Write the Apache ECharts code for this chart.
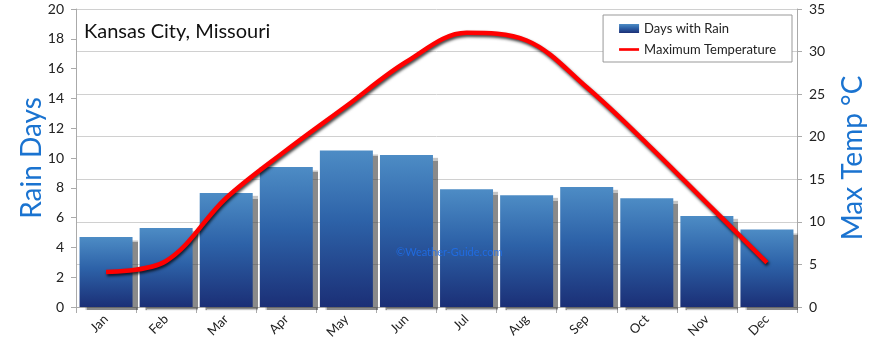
<!DOCTYPE html>
<html>
<head>
<meta charset="utf-8">
<title>Kansas City, Missouri</title>
<script src="https://cdn.jsdelivr.net/npm/echarts@6/dist/echarts.min.js"></script>
<style>
  html, body { margin: 0; padding: 0; background: #fff; }
  #chart { width: 870px; height: 352px; }
</style>
</head>
<body>
<div id="chart"></div>
<script>
// data
const months = ['Jan', 'Feb', 'Mar', 'Apr', 'May', 'Jun', 'Jul', 'Aug', 'Sep', 'Oct', 'Nov', 'Dec'];
const rainDays = [4.7, 5.3, 7.65, 9.4, 10.5, 10.2, 7.9, 7.5, 8.05, 7.3, 6.1, 5.2];
const maxTemp = [4.1, 5.4, 12.8, 18.4, 23.6, 28.8, 32.2, 31.3, 25.8, 19.2, 12.2, 5.2];

const fontName = 'Lato';
const blueText = '#1a73d0';

const chart = echarts.init(document.getElementById('chart'));

const barColor = new echarts.graphic.LinearGradient(0, 0, 0, 1, [
  { offset: 0, color: '#4d8cc5' },
  { offset: 0.45, color: '#2d62a8' },
  { offset: 1, color: '#1b2f76' }
]);

const option = {
  animation: false,
  textStyle: { fontFamily: fontName },
  title: {
    text: 'Kansas City, Missouri',
    left: 79,
    top: 17,
    textStyle: { fontSize: 20, fontWeight: 'normal', color: '#111', fontFamily: fontName }
  },
  legend: {
    orient: 'vertical',
    right: 78,
    top: 15,
    backgroundColor: '#fff',
    borderColor: '#999',
    borderWidth: 1,
    padding: [7, 16, 6, 16],
    itemGap: 8,
    itemWidth: 20,
    itemHeight: 9,
    textStyle: { fontSize: 13, color: '#222' },
    data: [
      { name: 'Days with Rain', icon: 'rect' },
      { name: 'Maximum Temperature', icon: 'path://M0,0 H30 V4 H0 Z', itemStyle: { color: '#ff0000' } }
    ]
  },
  grid: {
    left: 76,
    right: 73,
    top: 9,
    bottom: 45,
    outerBoundsMode: 'none'
  },
  xAxis: {
    type: 'category',
    data: months,
    axisLine: { lineStyle: { color: '#aaa' } },
    axisTick: { show: true, length: 6, lineStyle: { color: '#aaa' } },
    axisLabel: { rotate: 45, fontSize: 13, color: '#222', margin: 10 }
  },
  yAxis: [{
    type: 'value',
    min: 0,
    max: 20,
    interval: 2,
    name: 'Rain Days',
    nameLocation: 'middle',
    nameGap: 30,
    nameRotate: 90,
    nameMoveOverlap: false,
    nameTextStyle: { fontSize: 28, color: blueText },
    axisLine: { show: true, lineStyle: { color: '#aaa' } },
    axisTick: { show: true, length: 5, lineStyle: { color: '#aaa' } },
    axisLabel: { fontSize: 14, color: '#222', margin: 12 },
    splitLine: { show: false }
  }, {
    type: 'value',
    min: 0,
    max: 35,
    interval: 5,
    name: 'Max Temp °C',
    nameLocation: 'middle',
    nameGap: 42,
    nameRotate: 90,
    nameMoveOverlap: false,
    nameTextStyle: { fontSize: 28, color: blueText },
    axisLine: { show: true, lineStyle: { color: '#aaa' } },
    axisTick: { show: true, length: 5, lineStyle: { color: '#aaa' } },
    axisLabel: { fontSize: 14, color: '#222', margin: 12 },
    splitLine: { show: true, lineStyle: { color: '#d0d0d0' } }
  }],
  graphic: [{
    type: 'text',
    left: 396,
    top: 247,
    z: 50,
    style: {
      text: '©Weather-Guide.com',
      fill: 'rgba(30, 110, 235, 0.85)',
      font: '11px ' + fontName
    }
  }],
  series: [{
    name: 'Days with Rain',
    type: 'bar',
    yAxisIndex: 0,
    barWidth: 53,
    data: rainDays,
    itemStyle: {
      color: barColor,
      shadowColor: 'rgba(60, 60, 60, 0.6)',
      shadowBlur: 1,
      shadowOffsetX: 5,
      shadowOffsetY: 3
    }
  }, {
    name: 'Maximum Temperature',
    type: 'line',
    yAxisIndex: 1,
    smooth: 0.35,
    symbol: 'none',
    data: maxTemp,
    z: 10,
    lineStyle: {
      color: '#ff0000',
      width: 4.5,
      shadowColor: 'rgba(0, 0, 0, 0.75)',
      shadowBlur: 3,
      shadowOffsetX: 1,
      shadowOffsetY: 2
    },
    itemStyle: { color: '#ff0000' }
  }]
};

chart.setOption(option);
</script>
</body>
</html>
